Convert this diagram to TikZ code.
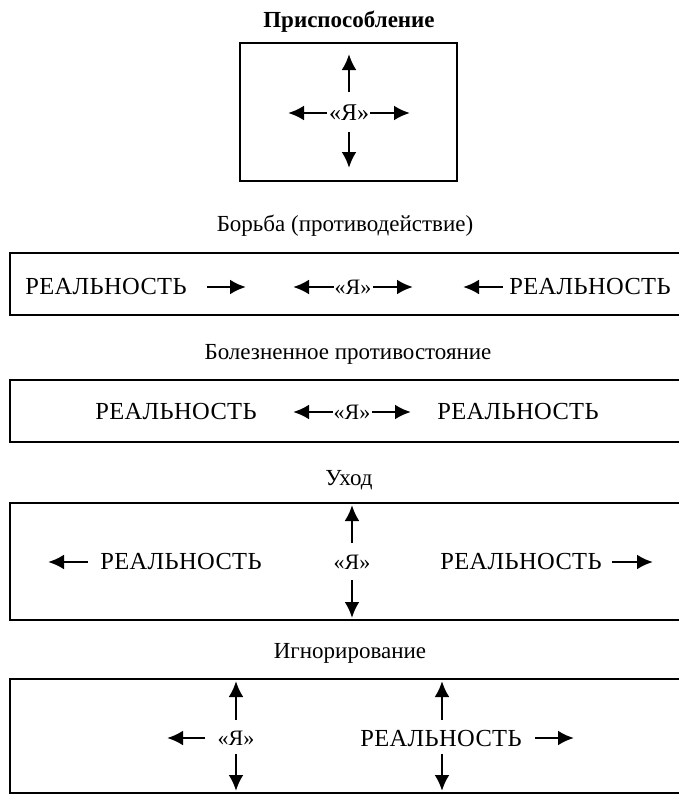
\documentclass[tikz,border=0pt]{standalone}
\usepackage{fontspec}
\setmainfont{Liberation Serif}
\newfontfamily\spacedfont[LetterSpace=1.5]{Liberation Serif}
\usetikzlibrary{arrows.meta}
\tikzset{
  frame/.style={line width=2.1pt, line cap=round, line join=miter},
  arr/.style={line width=2.8pt, -{Latex[length=16pt,width=15pt]}},
  real/.style={font=\spacedfont\fontsize{24.5}{28}\selectfont, inner sep=0pt, anchor=center},
  yanode/.style={font=\fontsize{22}{26}\selectfont, inner sep=0pt},
  ttl/.style={font=\fontsize{23}{26}\selectfont, inner sep=0pt},
}
\begin{document}
\begin{tikzpicture}[x=1pt,y=-1pt]
\useasboundingbox (0,0) rectangle (679,795);
% titles
\node[ttl,font=\bfseries\fontsize{23}{26}\selectfont] (t1) at (349,22) {Приспособление};
\node[ttl] (t2) at (345,226) {Борьба (противодействие)};
\node[ttl] (t3) at (348,354) {Болезненное противостояние};
\node[ttl] (t4) at (349,480) {Уход};
\node[ttl] (t5) at (350,653) {Игнорирование};
% frames
\draw[frame] (240,43) rectangle (457,181);
\draw[frame] (679,253) -- (10,253) -- (10,315) -- (679,315);
\draw[frame] (679,380) -- (10,380) -- (10,442) -- (679,442);
\draw[frame] (679,503) -- (10,503) -- (10,620) -- (679,620);
\draw[frame] (679,679) -- (10,679) -- (10,793) -- (679,793);
% box 1
\node[yanode,font=\fontsize{24}{28}\selectfont] (y1) at (349,113) {«Я»};
\coordinate (y1u0) at (349,92);  \coordinate (y1u1) at (349,54);
\coordinate (y1d0) at (349,132); \coordinate (y1d1) at (349,168);
\coordinate (y1l0) at (327,113); \coordinate (y1l1) at (288,113);
\coordinate (y1r0) at (370,113); \coordinate (y1r1) at (410,113);
\draw[arr] (y1u0) -- (y1u1);
\draw[arr] (y1d0) -- (y1d1);
\draw[arr] (y1l0) -- (y1l1);
\draw[arr] (y1r0) -- (y1r1);
% row 2
\node[real] (r2a) at (106,287) {РЕАЛЬНОСТЬ};
\node[yanode] (y2) at (353,287) {«Я»};
\node[real] (r2b) at (590,287) {РЕАЛЬНОСТЬ};
\coordinate (a2a0) at (207,287); \coordinate (a2a1) at (246,287);
\coordinate (a2b0) at (334,287); \coordinate (a2b1) at (293,287);
\coordinate (a2c0) at (373,287); \coordinate (a2c1) at (413,287);
\coordinate (a2d0) at (503,287); \coordinate (a2d1) at (463,287);
\draw[arr] (a2a0) -- (a2a1);
\draw[arr] (a2b0) -- (a2b1);
\draw[arr] (a2c0) -- (a2c1);
\draw[arr] (a2d0) -- (a2d1);
% row 3
\node[real] (r3a) at (176,412) {РЕАЛЬНОСТЬ};
\node[yanode] (y3) at (352,412) {«Я»};
\node[real] (r3b) at (518,412) {РЕАЛЬНОСТЬ};
\coordinate (a3a0) at (333,412); \coordinate (a3a1) at (293,412);
\coordinate (a3b0) at (372,412); \coordinate (a3b1) at (411,412);
\draw[arr] (a3a0) -- (a3a1);
\draw[arr] (a3b0) -- (a3b1);
% row 4
\node[real] (r4a) at (181,562) {РЕАЛЬНОСТЬ};
\node[yanode] (y4) at (352,562) {«Я»};
\node[real] (r4b) at (521,562) {РЕАЛЬНОСТЬ};
\coordinate (a4l0) at (88,562);  \coordinate (a4l1) at (48,562);
\coordinate (a4u0) at (352,543); \coordinate (a4u1) at (352,505);
\coordinate (a4d0) at (352,580); \coordinate (a4d1) at (352,618);
\coordinate (a4r0) at (612,562); \coordinate (a4r1) at (653,562);
\draw[arr] (a4l0) -- (a4l1);
\draw[arr] (a4u0) -- (a4u1);
\draw[arr] (a4d0) -- (a4d1);
\draw[arr] (a4r0) -- (a4r1);
% row 5
\node[yanode] (y5) at (236,738) {«Я»};
\node[real] (r5) at (441,738) {РЕАЛЬНОСТЬ};
\coordinate (a5l0) at (205,738); \coordinate (a5l1) at (167,738);
\coordinate (a5u0) at (236,720); \coordinate (a5u1) at (236,681);
\coordinate (a5d0) at (236,754); \coordinate (a5d1) at (236,791);
\coordinate (a5U0) at (442,720); \coordinate (a5U1) at (442,681);
\coordinate (a5D0) at (442,754); \coordinate (a5D1) at (442,791);
\coordinate (a5r0) at (535,738); \coordinate (a5r1) at (574,738);
\draw[arr] (a5l0) -- (a5l1);
\draw[arr] (a5u0) -- (a5u1);
\draw[arr] (a5d0) -- (a5d1);
\draw[arr] (a5U0) -- (a5U1);
\draw[arr] (a5D0) -- (a5D1);
\draw[arr] (a5r0) -- (a5r1);
\end{tikzpicture}
\end{document}
